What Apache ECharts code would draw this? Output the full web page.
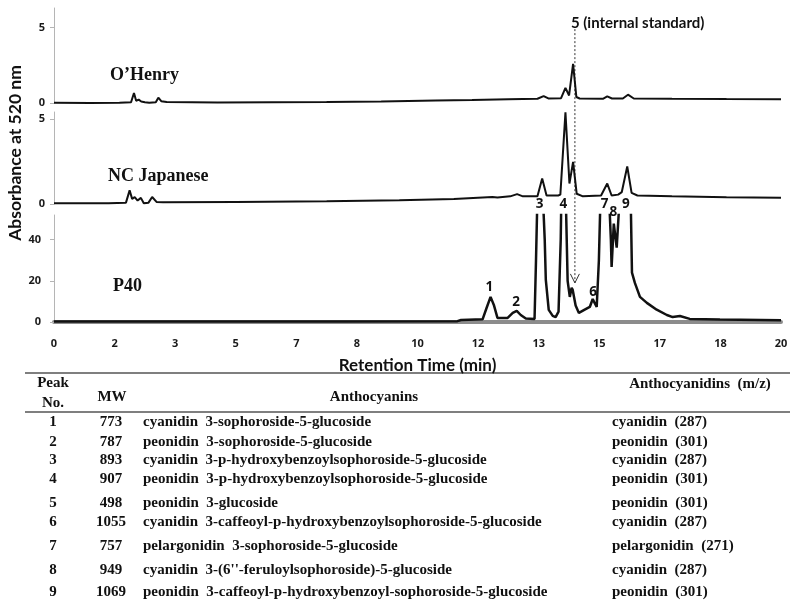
<!DOCTYPE html>
<html><head><meta charset="utf-8">
<script src="https://cdn.jsdelivr.net/npm/echarts@6/dist/echarts.min.js"></script>
<style>html,body{margin:0;padding:0;background:#fff}#c{width:800px;height:609px}</style>
</head><body><div id="c"></div>
<script>
// ---------- data ----------
const timeMax = 20;
const xTickLabels = ['0','2','3','5','7','8','10','12','13','15','17','18','20'];

const sampleNames = ['O\u2019Henry', 'NC Japanese', 'P40'];

const ohenryTrace = [
  [0,0.02],[1.0,0.0],[1.8,0.02],[2.12,0.05],[2.2,0.66],[2.26,0.15],[2.33,0.22],[2.4,0.1],[2.5,0.05],
  [2.62,0.02],[2.8,0.05],[2.87,0.35],[2.95,0.12],[3.1,0.06],[4.5,0.04],[6.0,0.05],[7.5,0.07],[9.0,0.1],
  [10.5,0.16],[11.5,0.2],[12.5,0.25],[13.3,0.28],[13.47,0.46],[13.6,0.3],[13.95,0.32],[14.07,1.0],
  [14.17,0.5],[14.28,2.6],[14.37,0.4],[14.46,0.3],[15.1,0.28],[15.22,0.44],[15.35,0.3],[15.65,0.3],
  [15.79,0.55],[15.95,0.3],[17,0.28],[18.5,0.26],[20,0.25]
];

const ncJapaneseTrace = [
  [0,0.05],[1.5,0.05],[1.98,0.08],[2.08,0.8],[2.15,0.3],[2.22,0.4],[2.3,0.2],[2.39,0.36],[2.47,0.05],
  [2.6,0.08],[2.7,0.41],[2.82,0.12],[3.0,0.1],[5,0.12],[7.5,0.16],[9.5,0.22],[11,0.3],[12.06,0.41],
  [12.2,0.38],[12.55,0.45],[12.74,0.58],[12.9,0.45],[13.3,0.45],[13.43,1.5],[13.55,0.5],[13.87,0.5],
  [13.93,0.55],[14.07,5.38],[14.18,1.2],[14.28,2.47],[14.38,0.6],[14.55,0.45],[15.05,0.5],[15.22,1.2],
  [15.34,0.5],[15.52,0.55],[15.62,0.7],[15.77,2.2],[15.89,0.65],[16.05,0.5],[17,0.45],[18.5,0.4],[20,0.37]
];

const p40Trace = [
  [0,0.3],[2,0.3],[5,0.3],[8,0.3],[11.1,0.4],[11.2,1.0],[11.79,1.3],[11.9,6.8],[12.01,12.2],[12.1,8.3],
  [12.2,2.0],[12.48,2.0],[12.62,4.4],[12.73,5.4],[12.84,3.4],[12.98,1.7],[13.22,1.5],[13.26,30],[13.31,70],
  [13.37,85],[13.44,65],[13.5,40],[13.53,20.5],[13.61,5.9],[13.72,3],[13.8,2.4],[13.88,5],[13.94,40],
  [13.99,100],[14.08,60],[14.13,20],[14.19,12.2],[14.24,16.6],[14.27,15.6],[14.35,8],[14.44,4.4],[14.6,6],
  [14.74,7.3],[14.82,11.2],[14.88,9],[14.93,7.3],[14.99,30],[15.04,65],[15.15,80],[15.26,65],[15.32,40],
  [15.34,26.8],[15.40,47.8],[15.48,36.1],[15.56,60],[15.7,70],[15.79,85],[15.87,55],[15.9,24],[15.98,19],
  [16.12,12.2],[16.31,9.3],[16.58,6],[16.86,3.4],[17.02,2.4],[17.22,2.9],[17.49,1.5],[18.32,1.2],[20,0.8]
];

const p40PeakLabels  = ['1','2','3','4','6','7','8','9'];
const p40LabelTimes  = [11.98, 12.71, 13.36, 14.01, 14.83, 15.15, 15.39, 15.73];
const p40LabelHeights= [17.1, 9.8, 57.1, 57.1, 14.6, 57.1, 53.2, 57.1];

const istdLabel = '5 (internal standard)';
const istdTime = 14.33;
const istdLineTopValue = 4.9;   // on O'Henry axis
const istdArrowTipValue = 19;   // on P40 axis

const panelYMax = [6.3, 5.4, 52];
const panelYTicks = [[0,5],[0,5],[0,20,40]];

const xAxisTitle = 'Retention Time (min)';
const yAxisTitle = 'Absorbance at 520 nm';

const tableHeadPeak = ['Peak', 'No.'];
const tableHeadMW = 'MW';
const tableHeadAntho = 'Anthocyanins';
const tableHeadAnthoDin = 'Anthocyanidins  (m/z)';
const tablePeakNos = ['1','2','3','4','5','6','7','8','9'];
const tableMW = ['773','787','893','907','498','1055','757','949','1069'];
const tableAnthocyanins = [
  'cyanidin  3-sophoroside-5-glucoside',
  'peonidin  3-sophoroside-5-glucoside',
  'cyanidin  3-p-hydroxybenzoylsophoroside-5-glucoside',
  'peonidin  3-p-hydroxybenzoylsophoroside-5-glucoside',
  'peonidin  3-glucoside',
  'cyanidin  3-caffeoyl-p-hydroxybenzoylsophoroside-5-glucoside',
  'pelargonidin  3-sophoroside-5-glucoside',
  'cyanidin  3-(6\'\'-feruloylsophoroside)-5-glucoside',
  'peonidin  3-caffeoyl-p-hydroxybenzoyl-sophoroside-5-glucoside'
];
const tableAnthocyanidins = [
  'cyanidin  (287)','peonidin  (301)','cyanidin  (287)','peonidin  (301)','peonidin  (301)',
  'cyanidin  (287)','pelargonidin  (271)','cyanidin  (287)','peonidin  (301)'
];

// ---------- layout ----------
const grids = [
  {left: 54, right: 19, top: 8, height: 95},
  {left: 54, right: 19, top: 112, height: 92},
  {left: 54, right: 19, top: 215, height: 107}
];
const tableRowY = [422, 442, 460, 479, 503, 522, 546, 570, 592];
const SANS = '"Open Sans"';
const TITLE = 'Lato';
const SERIF = '"Liberation Serif"';
const INK = '#111';

const chart = echarts.init(document.getElementById('c'), null, {renderer: 'canvas'});

const xTickValues = xTickLabels.map((_, i) => i * timeMax / (xTickLabels.length - 1));

const xAxes = grids.map((g, i) => ({
  type: 'value', gridIndex: i, min: 0, max: timeMax,
  show: i === 2,
  axisLine: {show: i === 2, lineStyle: {color: '#8c8c8c', width: 4}},
  axisTick: {show: false},
  splitLine: {show: false},
  axisLabel: {
    show: i === 2, customValues: xTickValues,
    formatter: v => xTickLabels[Math.round(v * (xTickLabels.length - 1) / timeMax)],
    fontFamily: SANS, fontWeight: 'bold', fontSize: 11, color: '#1a1a1a', margin: 16
  },
  name: i === 2 ? xAxisTitle : '',
  nameLocation: 'middle', nameGap: 35,
  nameTextStyle: {fontFamily: TITLE, fontWeight: 'bold', fontSize: 17, color: INK}
}));

const yAxes = grids.map((g, i) => ({
  type: 'value', gridIndex: i, min: 0, max: panelYMax[i],
  axisLine: {show: true, lineStyle: {color: '#b5b5b5', width: 1}},
  axisTick: {show: true, customValues: panelYTicks[i], length: 4, lineStyle: {color: '#b5b5b5'}},
  splitLine: {show: false},
  axisLabel: {
    customValues: panelYTicks[i],
    fontFamily: SANS, fontWeight: 'bold', fontSize: 11, color: '#1a1a1a',
    margin: i === 2 ? 13 : 9
  }
}));

const traces = [ohenryTrace, ncJapaneseTrace, p40Trace];
const series = traces.map((d, i) => ({
  type: 'line', xAxisIndex: i, yAxisIndex: i, data: d,
  showSymbol: false, symbol: 'none', clip: true, animation: false,
  lineStyle: {color: INK, width: i === 2 ? 2.5 : 2}
}));
series.push({
  type: 'scatter', xAxisIndex: 2, yAxisIndex: 2, clip: false, animation: false,
  symbolSize: 0, itemStyle: {opacity: 1, color: INK},
  data: p40PeakLabels.map((n, k) => ({name: n, value: [p40LabelTimes[k], p40LabelHeights[k]]})),
  label: {show: true, position: 'inside', formatter: p => p.name,
    fontFamily: SANS, fontWeight: 'bold', fontSize: 13.5, color: '#111'}
});

chart.setOption({
  animation: false,
  backgroundColor: '#fff',
  grid: grids,
  xAxis: xAxes,
  yAxis: yAxes,
  series: series
});

// ---------- graphics ----------
const g = [];
function txt(text, x, y, font, align, extra) {
  g.push(Object.assign({type: 'text', x: x, y: y, silent: true,
    style: {text: text, x: 0, y: 0, font: font, fill: INK, textAlign: align || 'left', textVerticalAlign: 'middle'}}, extra || {}));
}
// y title
txt(yAxisTitle, 15, 153, 'bold 17.5px ' + TITLE, 'center', {rotation: Math.PI / 2});
// sample names
const sampleNamePos = [[110, 75], [108, 176], [113, 286]];
sampleNames.forEach((n, i) => txt(n, sampleNamePos[i][0], sampleNamePos[i][1], 'bold 18px ' + SERIF, 'left'));

// internal standard marker
const px = chart.convertToPixel({xAxisIndex: 2}, istdTime);
const pyTop = chart.convertToPixel({yAxisIndex: 0}, istdLineTopValue);
const pyTip = chart.convertToPixel({yAxisIndex: 2}, istdArrowTipValue);
g.push({type: 'line', silent: true, shape: {x1: px, y1: pyTop, x2: px, y2: pyTip},
  style: {stroke: '#333', lineWidth: 1, lineDash: [2, 2]}});
g.push({type: 'polyline', silent: true, shape: {points: [[px - 4.5, pyTip - 9], [px, pyTip], [px + 4.5, pyTip - 9]]},
  style: {stroke: '#333', lineWidth: 1, fill: null}});
txt(istdLabel, px - 4, pyTop - 6, 'bold 15px ' + TITLE, 'left');

// table
const TF = 'bold 15px ' + SERIF;
g.push({type: 'line', silent: true, shape: {x1: 25, y1: 373, x2: 790, y2: 373}, style: {stroke: '#555', lineWidth: 1.5}});
g.push({type: 'line', silent: true, shape: {x1: 25, y1: 412, x2: 790, y2: 412}, style: {stroke: '#555', lineWidth: 1.5}});
txt(tableHeadPeak[0], 53, 383, TF, 'center');
txt(tableHeadPeak[1], 53, 403, TF, 'center');
txt(tableHeadMW, 112, 397, TF, 'center');
txt(tableHeadAntho, 374, 397, TF, 'center');
txt(tableHeadAnthoDin, 700, 384, TF, 'center');
tablePeakNos.forEach((n, i) => {
  const y = tableRowY[i];
  txt(n, 53, y, TF, 'center');
  txt(tableMW[i], 111, y, TF, 'center');
  txt(tableAnthocyanins[i], 143, y, TF, 'left');
  txt(tableAnthocyanidins[i], 612, y, TF, 'left');
});

chart.setOption({graphic: {elements: g}});
</script></body></html>
